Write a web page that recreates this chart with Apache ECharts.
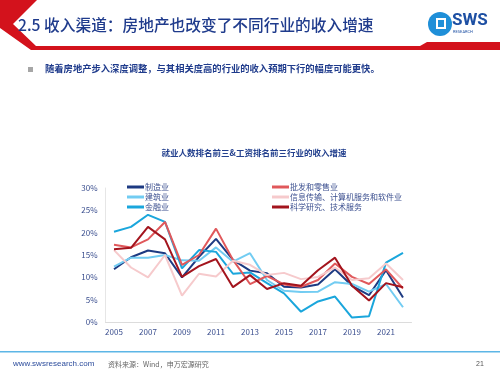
<!DOCTYPE html>
<html>
<head>
<meta charset="utf-8">
<script src="https://cdn.jsdelivr.net/npm/echarts@6/dist/echarts.min.js"></script>
<style>
  html, body { margin: 0; padding: 0; background: #fff; }
  #main { width: 500px; height: 375px; }
</style>
</head>
<body>
<div id="main"></div>
<script>
// 年份
var years = ['2005', '2006', '2007', '2008', '2009', '2010', '2011', '2012', '2013',
    '2014', '2015', '2016', '2017', '2018', '2019', '2020', '2021', '2022'];

// 收入增速 (%)
var zhizao = [11.8, 14.5, 16.0, 15.4, 10.0, 14.6, 18.6, 13.9, 11.5, 10.9, 7.9, 7.7, 8.4, 11.8, 8.1, 6.0, 11.6, 5.5];
var jianzhu = [12.4, 14.4, 14.4, 15.0, 13.8, 13.7, 16.7, 13.5, 15.4, 9.4, 7.0, 6.7, 6.8, 8.9, 8.5, 6.8, 8.5, 3.3];
var jinrong = [20.2, 21.3, 24.0, 22.4, 12.0, 16.1, 15.7, 10.8, 11.1, 8.7, 6.4, 2.3, 4.6, 5.7, 1.0, 1.3, 13.3, 15.5];
var pifa = [17.3, 16.7, 18.5, 22.4, 12.8, 15.0, 20.9, 13.9, 8.5, 10.3, 8.4, 7.9, 9.4, 13.1, 10.1, 8.5, 11.8, 7.5];
var xinxi = [16.1, 12.2, 10.0, 15.0, 5.9, 10.8, 10.2, 13.7, 12.8, 10.5, 11.0, 9.6, 10.1, 12.2, 9.4, 9.8, 13.1, 9.4];
var keyan = [16.3, 16.6, 21.3, 18.5, 10.1, 12.5, 14.1, 7.8, 10.5, 7.4, 8.7, 8.1, 11.6, 14.4, 8.1, 4.8, 8.7, 7.8];

var names1 = ['制造业', '建筑业', '金融业'];
var names2 = ['批发和零售业', '信息传输、计算机服务和软件业', '科学研究、技术服务'];

var font = '"Noto Sans CJK SC", "Noto Sans", sans-serif';
var blue = '#23408e';
var labelColor = '#3b4f8f';

var dom = document.getElementById('main');
var myChart = echarts.init(dom);

function line(name, data, color) {
    return {
        name: name,
        type: 'line',
        data: data,
        symbol: 'none',
        color: color,
        lineStyle: { width: 2, color: color }
    };
}

var option = {
    backgroundColor: '#fff',
    animation: false,
    textStyle: { fontFamily: font },
    title: {
        text: '就业人数排名前三&工资排名前三行业的收入增速',
        left: 249,
        textAlign: 'center',
        top: 144,
        textStyle: { fontSize: 8.5, fontWeight: 'bold', color: blue, fontFamily: font }
    },
    legend: [
        {
            data: names1,
            orient: 'vertical',
            left: 122,
            top: 178,
            itemWidth: 17,
            itemHeight: 3,
            itemGap: 2,
            icon: 'rect',
            textStyle: { fontSize: 8, color: labelColor, padding: [0, 0, 0, -4] }
        },
        {
            data: names2,
            orient: 'vertical',
            left: 267,
            top: 178,
            itemWidth: 17,
            itemHeight: 3,
            itemGap: 2,
            icon: 'rect',
            textStyle: { fontSize: 8, color: labelColor, padding: [0, 0, 0, -4] }
        }
    ],
    grid: {
        left: 105.5,
        top: 188,
        width: 306,
        height: 134,
        containLabel: false
    },
    xAxis: {
        type: 'category',
        data: years,
        boundaryGap: true,
        axisLine: { lineStyle: { color: '#dcdcdc', width: 1 } },
        axisTick: { show: false },
        axisLabel: { interval: 1, fontSize: 8, color: labelColor, margin: 6 },
        splitLine: { show: false }
    },
    yAxis: {
        type: 'value',
        min: 0,
        max: 30,
        interval: 5,
        axisLine: { show: true, lineStyle: { color: '#e6e6e6', width: 1 } },
        axisTick: { show: false },
        axisLabel: { fontSize: 8, color: labelColor, formatter: '{value}%', margin: 8 },
        splitLine: { show: false }
    },
    series: [
        line('制造业', zhizao, '#1d3a82'),
        line('建筑业', jianzhu, '#72ccf2'),
        line('金融业', jinrong, '#1aa6dc'),
        line('批发和零售业', pifa, '#e0585b'),
        line('信息传输、计算机服务和软件业', xinxi, '#f6cacc'),
        line('科学研究、技术服务', keyan, '#a3141d')
    ],
    graphic: [
        // 页眉红色折角
        {
            type: 'polygon',
            shape: { points: [[0, 0], [37, 0], [13, 24], [36, 46], [420, 46], [427, 42], [500, 42], [500, 50], [31, 50], [0, 28]] },
            style: { fill: '#d3121c' },
            z: 1
        },
        {
            type: 'text',
            left: 18,
            top: 17,
            style: { text: '2.5 收入渠道：房地产也改变了不同行业的收入增速', fontSize: 15.7, fontFamily: font, fontWeight: 500, fill: '#1f3b8c' },
            z: 2
        },
        // SWS logo
        {
            type: 'circle',
            shape: { cx: 440, cy: 24, r: 12 },
            style: { fill: '#1f8fd8' }
        },
        {
            type: 'rect',
            shape: { x: 436, y: 18, width: 10, height: 11 },
            style: { fill: '#fff' }
        },
        {
            type: 'rect',
            shape: { x: 438, y: 20, width: 6, height: 7 },
            style: { fill: '#1f8fd8' }
        },
        {
            type: 'text',
            left: 452,
            top: 12,
            style: { text: 'SWS', fontSize: 17, fontWeight: 'bold', fontFamily: 'Roboto, sans-serif', fill: '#1d4fa3' }
        },
        {
            type: 'text',
            left: 453,
            top: 30,
            style: { text: 'RESEARCH', fontSize: 4, fontFamily: 'Roboto, sans-serif', fill: '#1d4fa3' }
        },
        // 要点
        {
            type: 'rect',
            shape: { x: 28, y: 67, width: 5, height: 5 },
            style: { fill: '#a6a6a6' }
        },
        {
            type: 'text',
            left: 45,
            top: 64,
            style: { text: '随着房地产步入深度调整，与其相关度高的行业的收入预期下行的幅度可能更快。', fontSize: 9.3, fontWeight: 'bold', fontFamily: font, fill: '#1f3b8c' }
        },
        // 页脚
        {
            type: 'rect',
            shape: { x: 0, y: 351, width: 500, height: 1.5 },
            style: { fill: '#5db6e6' }
        },
        {
            type: 'text',
            left: 13,
            top: 360,
            style: { text: 'www.swsresearch.com', fontSize: 8, fontFamily: 'Arial, "Liberation Sans", sans-serif', fill: '#2c4c9c' }
        },
        {
            type: 'text',
            left: 108,
            top: 361,
            style: { text: '资料来源：Wind，申万宏源研究', fontSize: 7, fontFamily: font, fill: '#666' }
        },
        {
            type: 'text',
            left: 476,
            top: 361,
            style: { text: '21', fontSize: 7, fontFamily: 'Arial, sans-serif', fill: '#555' }
        }
    ]
};

if (option && typeof option === "object") {
    myChart.setOption(option, true);
}
</script>
</body>
</html>
